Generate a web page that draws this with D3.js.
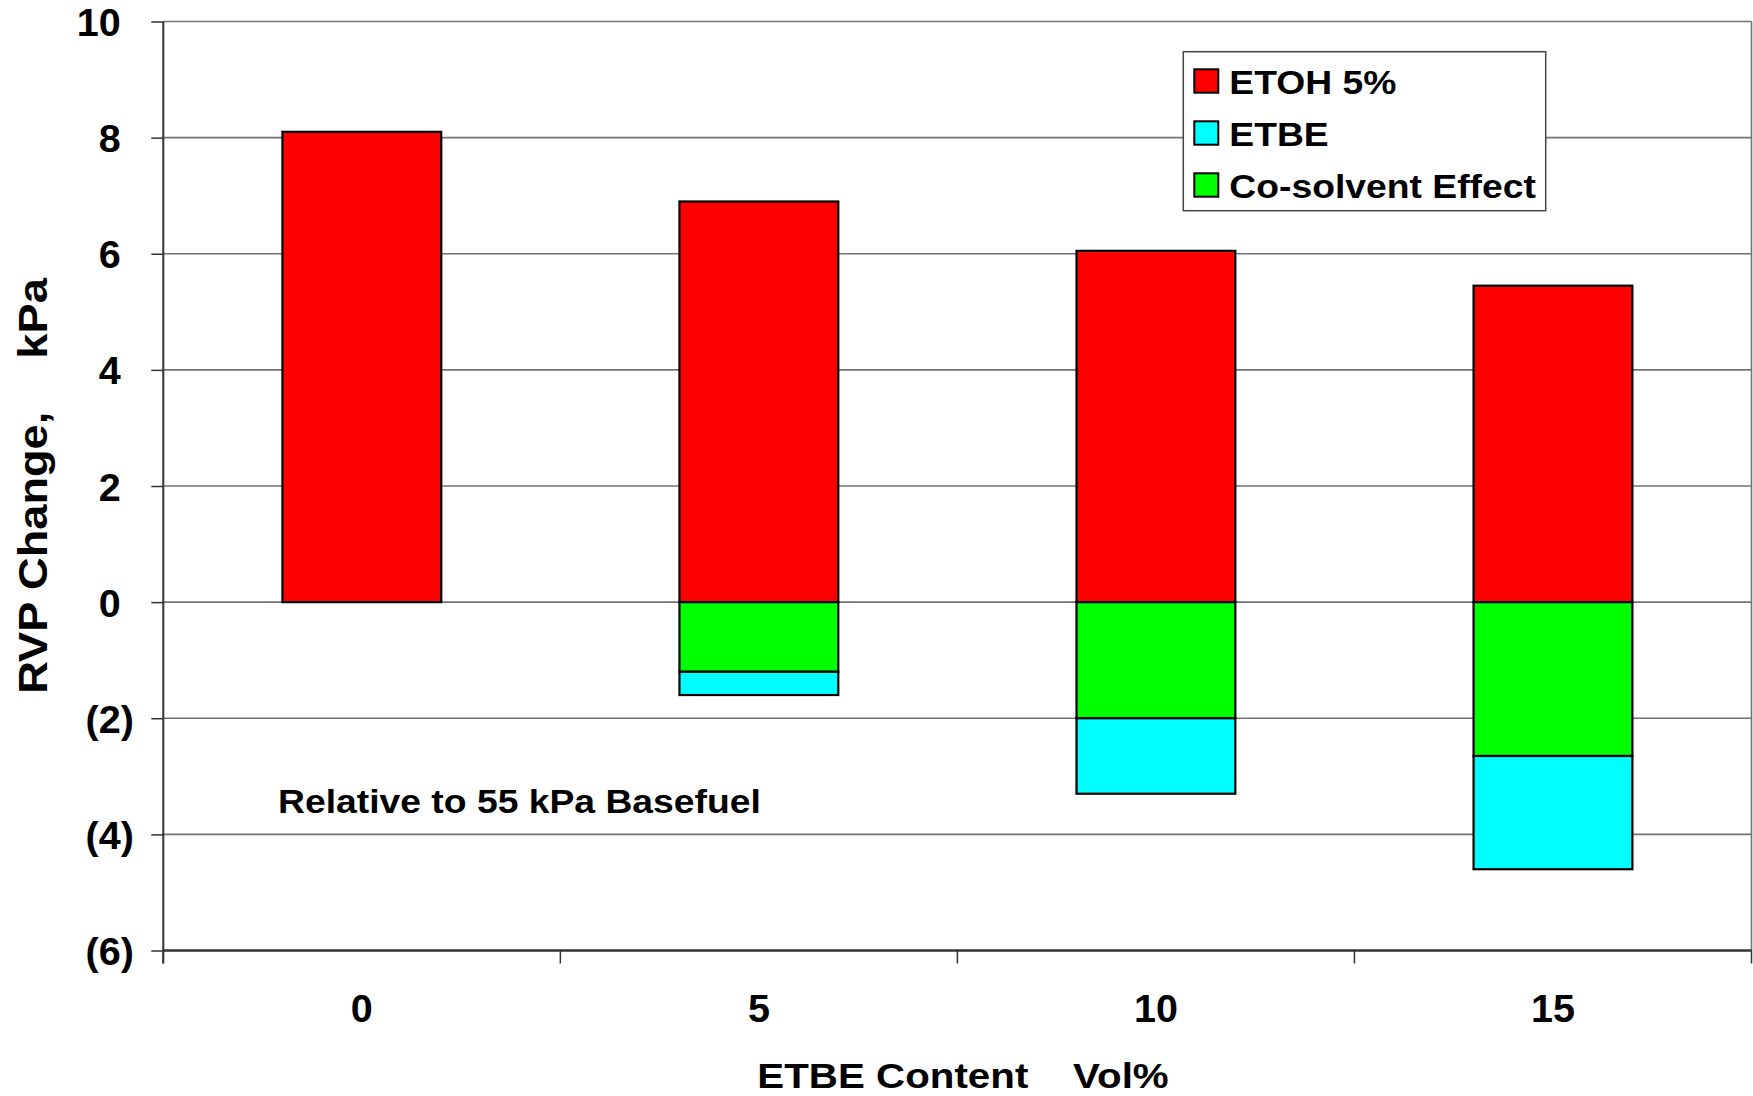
<!DOCTYPE html>
<html>
<head>
<meta charset="utf-8">
<script src="https://cdn.jsdelivr.net/npm/d3@7/dist/d3.min.js"></script>
<style>
  html, body { margin: 0; padding: 0; background: #fff; }
  svg { display: block; font-family: "Liberation Sans", Arial, sans-serif; font-weight: bold; }
</style>
</head>
<body>
<svg id="chart" width="1753" height="1096"></svg>
<script>
// ETBE content (vol%) on the x axis
const categories = ["0", "5", "10", "15"];
// RVP change contributions, kPa
const etohValues = [8.1, 6.9, 6.05, 5.45];
const cosolventValues = [0, -1.2, -2.0, -2.65];
const etbeValues = [0, -0.4, -1.3, -1.95];
// y axis ticks
const yTicks = [10, 8, 6, 4, 2, 0, -2, -4, -6];
// legend entries, in display order
const legendLabels = ["ETOH 5%", "ETBE", "Co-solvent Effect"];

const colors = { etoh: "#FF0000", etbe: "#00FFFF", cosolvent: "#00FF00" };

const rows = categories.map((c, i) => ({
  cat: c, etoh: etohValues[i], cosolvent: cosolventValues[i], etbe: etbeValues[i]
}));

const svg = d3.select("#chart");
const plotLeft = 163.3, plotRight = 1751.5, plotTop = 21.5, plotBottom = 950.5;

const x = d3.scaleBand().domain(categories).range([plotLeft, plotRight])
  .paddingInner(0.6).paddingOuter(0.3);
const y = d3.scaleLinear().domain([-6, 10]).range([plotBottom, plotTop]);

// gridlines
svg.append("g").selectAll("line").data(yTicks.filter(t => t !== -6)).join("line")
  .attr("x1", plotLeft).attr("x2", plotRight)
  .attr("y1", d => y(d)).attr("y2", d => y(d))
  .attr("stroke", "#737373").attr("stroke-width", 1.6);

// right border of plot area
svg.append("line").attr("x1", plotRight).attr("x2", plotRight).attr("y1", plotTop).attr("y2", plotBottom)
  .attr("stroke", "#737373").attr("stroke-width", 1.6);

// stacked bars, diverging about zero
const keys = ["etoh", "cosolvent", "etbe"];
const stack = d3.stack().keys(keys).offset(d3.stackOffsetDiverging);
const series = stack(rows);

svg.append("g").selectAll("g").data(series).join("g")
  .attr("fill", s => colors[s.key])
  .selectAll("rect").data(s => s.filter(d => d[0] !== d[1])).join("rect")
  .attr("x", d => x(d.data.cat))
  .attr("width", x.bandwidth())
  .attr("y", d => y(Math.max(d[0], d[1])))
  .attr("height", d => Math.abs(y(d[0]) - y(d[1])))
  .attr("stroke", "#000").attr("stroke-width", 2.2);

// y axis
const yAxis = d3.axisLeft(y).tickValues(yTicks).tickSize(12).tickPadding(0)
  .tickFormat(d => d < 0 ? "(" + Math.abs(d) + ")" : String(d));
const gy = svg.append("g").attr("transform", `translate(${plotLeft},0)`).call(yAxis);
gy.select(".domain").remove();
gy.selectAll(".tick line").attr("stroke", "#333").attr("stroke-width", 1.5);
gy.selectAll(".tick text")
  .attr("x", -29.5)
  .attr("dx", d => d < 0 ? 0 : "-0.333em")
  .attr("dy", 14)
  .attr("fill", "#000")
  .style("font-size", "39.5px").style("font-family", "'Liberation Sans', Arial, sans-serif").style("font-weight", "bold");
svg.append("line").attr("x1", plotLeft).attr("x2", plotLeft).attr("y1", plotTop).attr("y2", plotBottom + 13)
  .attr("stroke", "#333").attr("stroke-width", 2);

// x axis: category separators and labels
const step = x.step();
const sepX = d3.range(categories.length + 1).map(i => plotLeft + i * step);
svg.append("line").attr("x1", plotLeft).attr("x2", plotRight).attr("y1", plotBottom).attr("y2", plotBottom)
  .attr("stroke", "#333").attr("stroke-width", 2.5);
svg.append("g").selectAll("line").data(sepX).join("line")
  .attr("x1", d => d).attr("x2", d => d).attr("y1", plotBottom).attr("y2", plotBottom + 13)
  .attr("stroke", "#333").attr("stroke-width", 1.5);
svg.append("g").selectAll("text").data(categories).join("text")
  .attr("x", d => x(d) + x.bandwidth() / 2)
  .attr("y", 1022)
  .attr("text-anchor", "middle")
  .style("font-size", "39.5px")
  .text(d => d);

// axis titles
const xt = svg.append("text").attr("transform", "translate(963,1088) scale(1.12,1)")
  .attr("text-anchor", "middle").style("font-size", "36px");
xt.append("tspan").text("ETBE Content");
xt.append("tspan").attr("dx", 40).text("Vol%");

const yt = svg.append("text").attr("transform", "translate(47,486) rotate(-90) scale(1.13,1)")
  .attr("text-anchor", "middle").style("font-size", "40px");
yt.append("tspan").text("RVP Change,");
yt.append("tspan").attr("dx", 47).text("kPa");

// note inside plot
svg.append("text").attr("transform", "translate(278,812.5) scale(1.13,1)")
  .style("font-size", "33px").text("Relative to 55 kPa Basefuel");

// legend
const lg = svg.append("g");
lg.append("rect").attr("x", 1183.3).attr("y", 51.7).attr("width", 362.4).attr("height", 159)
  .attr("fill", "#fff").attr("stroke", "#444").attr("stroke-width", 1.5);
const legendKeys = ["etoh", "etbe", "cosolvent"];
const item = lg.selectAll("g.item").data(legendLabels).join("g").attr("class", "item")
  .attr("transform", (d, i) => `translate(1194.3,${69.3 + i * 52})`);
item.append("rect").attr("width", 24).attr("height", 23.4)
  .attr("fill", (d, i) => colors[legendKeys[i]])
  .attr("stroke", "#000").attr("stroke-width", 2);
item.append("text").attr("transform", "translate(35,25) scale(1.13,1)")
  .style("font-size", "33px").text(d => d);
</script>
</body>
</html>
